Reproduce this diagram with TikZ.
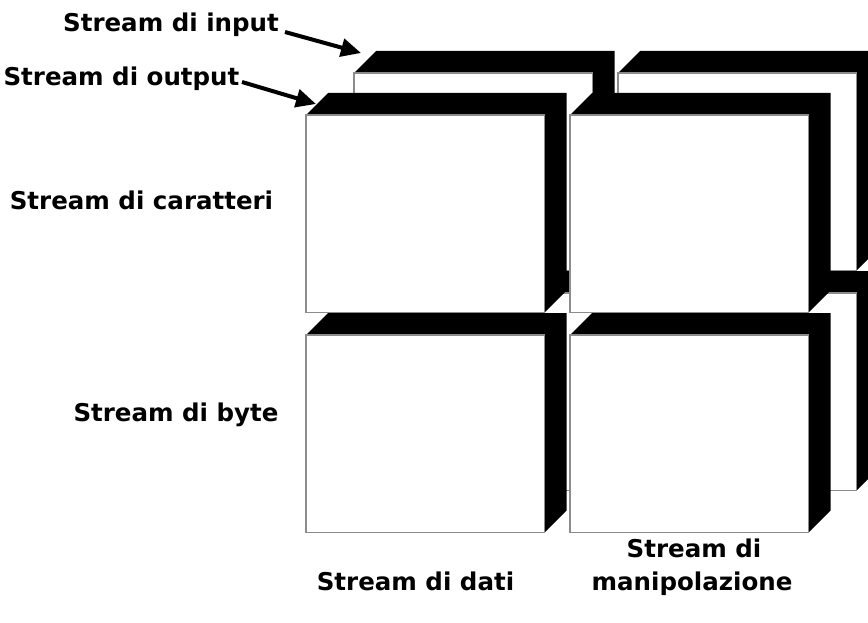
\documentclass[tikz,border=0pt]{standalone}
\usepackage{fontspec}
\setmainfont{DejaVu Sans}
\usetikzlibrary{arrows.meta}

\definecolor{edgegray}{HTML}{8C8C8C}

\tikzset{
  % one raised panel: white face with a black extrusion up and to the right
  pics/slab/.style={code={
    \fill[black] (0,0) -- (22,-22) -- (260.5,-22) -- (260.5,175.5)
                 -- (238.5,197.5) -- (238.5,0) -- cycle;
    \filldraw[fill=white, draw=edgegray, line width=1.2pt] (0,0) rectangle (238.5,197.5);
  }},
  lbl/.style={font=\fontsize{24.5}{29}\selectfont\bfseries, inner sep=0pt, anchor=base},
  pointer/.style={line width=4pt, -{Triangle[length=20pt,width=18pt]}}
}

\begin{document}
\begin{tikzpicture}[x=1pt, y=-1pt]
  \useasboundingbox (0,0) rectangle (868,623);
  \clip (0,0) rectangle (868,623);

  % back layer (input streams)
  \pic at (354,73)  {slab};
  \pic at (618,73)  {slab};
  \pic at (354,293) {slab};
  \pic at (618,293) {slab};

  % front layer (output streams)
  \pic at (306,115) {slab};
  \pic at (570,115) {slab};
  \pic at (306,335) {slab};
  \pic at (570,335) {slab};

  % labels
  \node[lbl] (input)  at (171,31.5)   {Stream di input};
  \node[lbl] (output) at (121.5,86)   {Stream di output};
  \node[lbl] (chars)  at (141.5,210)  {Stream di caratteri};
  \node[lbl] (bytes)  at (176,421)    {Stream di byte};
  \node[lbl] (data)   at (415.5,590)  {Stream di dati};
  \node[lbl] (manipA) at (694,557)    {Stream di};
  \node[lbl] (manipB) at (692,590)    {manipolazione};

  % pointers to the two layers
  \coordinate (inTail)  at (285,32);
  \coordinate (inTip)   at (361,53);
  \coordinate (outTail) at (242,82);
  \coordinate (outTip)  at (316,104);
  \draw[pointer] (inTail) -- (inTip);
  \draw[pointer] (outTail) -- (outTip);
\end{tikzpicture}
\end{document}
